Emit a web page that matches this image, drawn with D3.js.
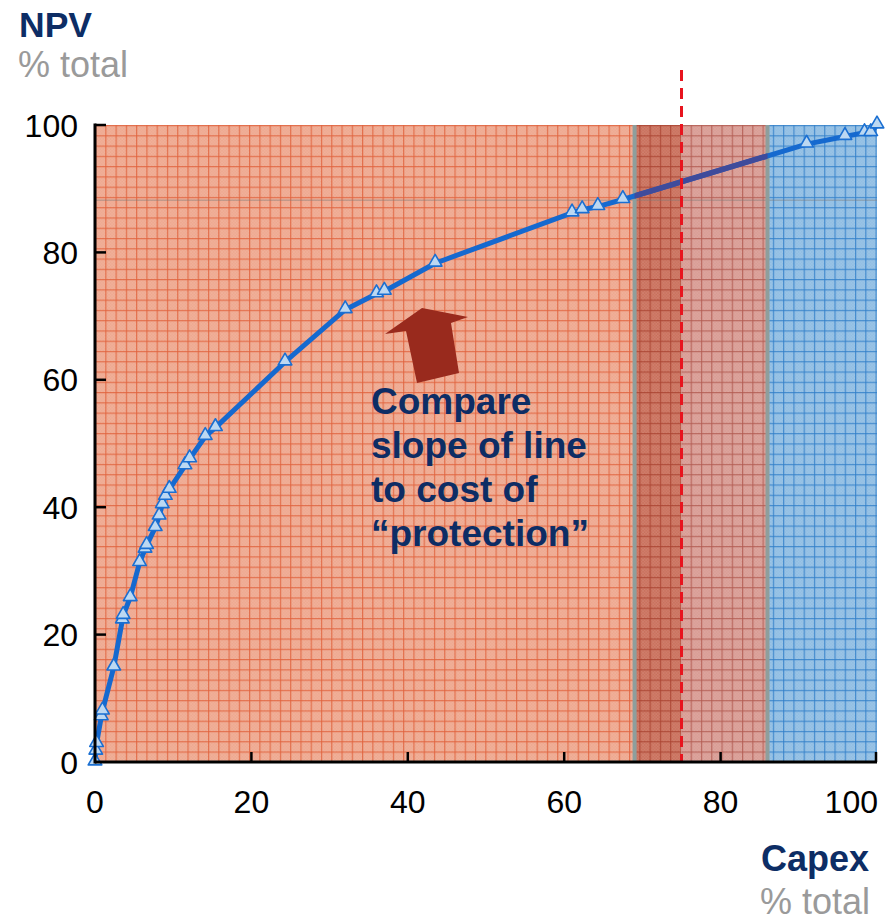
<!DOCTYPE html>
<html>
<head>
<meta charset="utf-8">
<script src="https://cdn.jsdelivr.net/npm/d3@7"></script>
<style>
  html, body { margin: 0; padding: 0; background: #ffffff; }
  svg { display: block; font-family: Arial, "Liberation Sans", Helvetica, sans-serif; }
</style>
</head>
<body>
<div id="chart"></div>
<script>
// Cumulative capex vs cumulative NPV (both % of total)
const capex = [0, 0.1, 0.2, 0.8, 0.95, 2.4, 3.5, 3.6, 4.5, 5.7, 6.4, 6.6, 7.7, 8.2, 8.6, 9.0, 9.5,
  11.5, 12.1, 14.1, 15.4, 24.3, 32.0, 36.0, 37.0, 43.5, 61.0, 62.3, 64.3, 67.5, 91.0, 95.9, 98.4, 99.2, 100];
const npv = [0, 1.7, 2.9, 7.1, 8.0, 14.9, 22.3, 23.0, 25.8, 31.3, 33.4, 34.0, 36.8, 38.6, 40.4, 41.7, 42.8,
  46.5, 47.6, 51.1, 52.5, 62.8, 71.0, 73.5, 73.9, 78.3, 86.2, 86.7, 87.2, 88.3, 97.0, 98.2, 98.8, 98.8, 100];

const xTicks = [0, 20, 40, 60, 80, 100];
const yTicks = [0, 20, 40, 60, 80, 100];

// Background zones along the capex axis
const zoneNames = ["core", "protect", "protectBeyond", "tail"];
const zoneStart = [0, 69, 75, 86];
const zoneEnd = [69, 75, 86, 100];
const zoneFill = ["#eea78e", "#c96f5b", "#d89b93", "#8fbde3"];
const zoneGrid = ["#e0603a", "#a9422f", "#b25a50", "#2f7ec8"];

const dividerAt = [69, 86];
const thresholdCapex = 75;
const referenceNpv = 88.2;

const noteLines = ["Compare", "slope of line", "to cost of", "\u201cprotection\u201d"];

const W = 893, H = 921;
const plotLeft = 95, plotRight = 877, plotTop = 125, plotBottom = 762;

const x = d3.scaleLinear().domain([0, 100]).range([plotLeft, plotRight]);
const y = d3.scaleLinear().domain([0, 100]).range([plotBottom, plotTop]);

const svg = d3.select("#chart").append("svg").attr("width", W).attr("height", H);
const defs = svg.append("defs");

// Graph-paper fill for each zone: base colour, fine checker, grid lines
const cell = 10.27;
zoneNames.forEach((name, i) => {
  const chk = defs.append("pattern")
    .attr("id", "chk-" + name)
    .attr("patternUnits", "userSpaceOnUse")
    .attr("width", 3).attr("height", 3);
  chk.append("rect").attr("width", 3).attr("height", 3).attr("fill", zoneFill[i]);
  chk.append("rect").attr("width", 1.5).attr("height", 1.5).attr("fill", "#ffffff").attr("opacity", 0.12);
  chk.append("rect").attr("x", 1.5).attr("y", 1.5).attr("width", 1.5).attr("height", 1.5).attr("fill", "#ffffff").attr("opacity", 0.12);

  const p = defs.append("pattern")
    .attr("id", "grid-" + name)
    .attr("patternUnits", "userSpaceOnUse")
    .attr("x", plotLeft).attr("y", plotTop)
    .attr("width", cell).attr("height", cell);
  p.append("rect").attr("width", cell).attr("height", cell).attr("fill", "url(#chk-" + name + ")");
  p.append("line").attr("x1", 0.6).attr("x2", 0.6).attr("y1", 0).attr("y2", cell)
    .attr("stroke", zoneGrid[i]).attr("stroke-width", 1.2).attr("opacity", 0.8);
  p.append("line").attr("x1", 0).attr("x2", cell).attr("y1", 0.6).attr("y2", 0.6)
    .attr("stroke", zoneGrid[i]).attr("stroke-width", 1.2).attr("opacity", 0.8);
});

svg.append("g").selectAll("rect")
  .data(zoneNames)
  .join("rect")
  .attr("x", (d, i) => x(zoneStart[i]))
  .attr("width", (d, i) => x(zoneEnd[i]) - x(zoneStart[i]))
  .attr("y", y(100))
  .attr("height", y(0) - y(100))
  .attr("fill", d => "url(#grid-" + d + ")");

// Reference level line
svg.append("line")
  .attr("x1", x(0)).attr("x2", x(100))
  .attr("y1", y(referenceNpv)).attr("y2", y(referenceNpv))
  .attr("stroke", "#7d7a78").attr("stroke-width", 1).attr("opacity", 0.6);

// Zone dividers
svg.append("g").selectAll("line")
  .data(dividerAt)
  .join("line")
  .attr("x1", d => x(d)).attr("x2", d => x(d))
  .attr("y1", y(100)).attr("y2", y(0))
  .attr("stroke", "#8e9e9c").attr("stroke-width", 4);

// Curve
const pts = capex.map((c, i) => [c, npv[i]]);
const line = d3.line().x(d => x(d[0])).y(d => y(d[1]));

defs.append("clipPath").attr("id", "clip-protect")
  .append("rect")
  .attr("x", x(69)).attr("width", x(86) - x(69))
  .attr("y", 0).attr("height", H);

svg.append("path")
  .datum(pts)
  .attr("d", line)
  .attr("fill", "none")
  .attr("stroke", "#1569cf")
  .attr("stroke-width", 5)
  .attr("stroke-linejoin", "round");

svg.append("path")
  .datum(pts)
  .attr("d", line)
  .attr("clip-path", "url(#clip-protect)")
  .attr("fill", "none")
  .attr("stroke", "#3f4b9b")
  .attr("stroke-width", 5.5);

// Threshold
svg.append("line")
  .attr("x1", x(thresholdCapex)).attr("x2", x(thresholdCapex))
  .attr("y1", 70).attr("y2", y(0))
  .attr("stroke", "#e8141e").attr("stroke-width", 3)
  .attr("stroke-dasharray", "11,7");

// Triangle markers
const tri = d3.symbol().type(d3.symbolTriangle).size(80);
svg.append("g").selectAll("path")
  .data(pts)
  .join("path")
  .attr("d", tri)
  .attr("transform", d => `translate(${x(d[0])},${y(d[1]) - 1})`)
  .attr("fill", "#bcd8f2")
  .attr("stroke", "#1a6fd2")
  .attr("stroke-width", 1.6)
  .attr("stroke-linejoin", "round");

// Axes
const axisColor = "#000000";
svg.append("line").attr("x1", x(0)).attr("x2", x(100)).attr("y1", y(0)).attr("y2", y(0))
  .attr("stroke", axisColor).attr("stroke-width", 3);
svg.append("line").attr("x1", x(0)).attr("x2", x(0)).attr("y1", y(0) + 1.5).attr("y2", y(100) - 1.5)
  .attr("stroke", axisColor).attr("stroke-width", 3);

svg.append("g").selectAll("line")
  .data(xTicks.slice(1))
  .join("line")
  .attr("x1", d => x(d) - (d === 100 ? 1 : 0)).attr("x2", d => x(d) - (d === 100 ? 1 : 0))
  .attr("y1", y(0)).attr("y2", y(0) - 10)
  .attr("stroke", axisColor).attr("stroke-width", 2.5);

svg.append("g").selectAll("line")
  .data(yTicks.slice(1))
  .join("line")
  .attr("x1", x(0)).attr("x2", x(0) + 11)
  .attr("y1", d => y(d)).attr("y2", d => y(d))
  .attr("stroke", axisColor).attr("stroke-width", 2.5);

// Last x label is pulled inside the right edge
svg.append("g").selectAll("text")
  .data(xTicks)
  .join("text")
  .attr("x", d => d === 100 ? 878 : x(d))
  .attr("y", 813)
  .attr("text-anchor", d => d === 100 ? "end" : "middle")
  .attr("font-size", 32)
  .attr("fill", "#000")
  .text(d => d);

svg.append("g").selectAll("text")
  .data(yTicks)
  .join("text")
  .attr("x", 78)
  .attr("y", d => y(d) + 11.5)
  .attr("text-anchor", "end")
  .attr("font-size", 32)
  .attr("fill", "#000")
  .text(d => d);

// Axis titles
svg.append("text").attr("x", 19).attr("y", 37)
  .attr("font-size", 35.5).attr("font-weight", "bold").attr("fill", "#0d2d65").text("NPV");
svg.append("text").attr("x", 18).attr("y", 77)
  .attr("font-size", 36).attr("fill", "#9a9a9a").text("% total");
svg.append("text").attr("x", 869).attr("y", 871)
  .attr("text-anchor", "end")
  .attr("font-size", 36).attr("font-weight", "bold").attr("fill", "#0d2d65").text("Capex");
svg.append("text").attr("x", 870).attr("y", 914)
  .attr("text-anchor", "end")
  .attr("font-size", 36).attr("fill", "#9a9a9a").text("% total");

// Arrow pointing at the curve
const arrow = [[422, 308], [468, 317], [451, 323], [459, 373], [417, 383], [406, 331], [385, 334]];
svg.append("path")
  .attr("d", d3.line()(arrow) + "Z")
  .attr("fill", "#992a1d");

// Annotation
const note = svg.append("text")
  .attr("x", 371).attr("y", 414)
  .attr("font-size", 37).attr("font-weight", "bold").attr("fill", "#0d2d65");
note.selectAll("tspan")
  .data(noteLines)
  .join("tspan")
  .attr("x", 371)
  .attr("dy", (d, i) => i === 0 ? 0 : 44)
  .text(d => d);
</script>
</body>
</html>
